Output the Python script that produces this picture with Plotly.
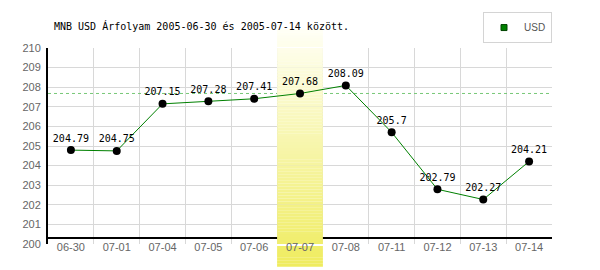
import plotly.graph_objects as go

# ---- data ----
dates = ["06-30", "07-01", "07-04", "07-05", "07-06", "07-07",
         "07-08", "07-11", "07-12", "07-13", "07-14"]
usd = [204.79, 204.75, 207.15, 207.28, 207.41, 207.68,
       208.09, 205.7, 202.79, 202.27, 204.21]
value_labels = ["204.79", "204.75", "207.15", "207.28", "207.41", "207.68",
                "208.09", "205.7", "202.79", "202.27", "204.21"]
highlight_date = "07-07"
reference_rate = 207.68
y_ticks = [200, 201, 202, 203, 204, 205, 206, 207, 208, 209, 210]
title_text = "MNB USD Árfolyam 2005-06-30 és 2005-07-14 között."
series_name = "USD"

# ---- geometry (pixels) ----
W, H = 600, 270
ML, MR, MT, MB = 48, 48, 46, 26
PH = H - MT - MB  # plot height in px
YMIN, YMAX = y_ticks[0], y_ticks[-1]
PX_PER_UNIT = PH / (YMAX - YMIN)


def py_to_data(py):
    return YMAX - (py - MT) / PX_PER_UNIT


def py_to_paper(py):
    return (H - MB - py) / PH


BAND_TOP, BAND_BOT = 27, 267
C_TOP = (255, 255, 246)
C_BOT = (239, 236, 94)


def band_color(py):
    t = (py - BAND_TOP) / (BAND_BOT - BAND_TOP)
    t = max(0.0, min(1.0, t))
    c = [round(a + (b - a) * t) for a, b in zip(C_TOP, C_BOT)]
    return "rgb(%d,%d,%d)" % tuple(c)


n = len(dates)
hi = dates.index(highlight_date)

shapes = []
# dashed reference line
shapes.append(dict(type="line", xref="x", yref="y", x0=-0.5, x1=n - 0.5,
                   y0=reference_rate, y1=reference_rate, layer="between",
                   line=dict(color="rgb(120,200,120)", width=1, dash="3px,3px")))
# x axis line (sits slightly above the plot bottom)
ax_y = py_to_data(238)
shapes.append(dict(type="line", xref="x", yref="y", x0=-0.5, x1=n - 0.5,
                   y0=ax_y, y1=ax_y, layer="between",
                   line=dict(color="black", width=2)))

# gradient band
step = 3
py = BAND_TOP
while py < BAND_BOT:
    p1 = min(py + step, BAND_BOT)
    col = band_color((py + p1) / 2)
    if p1 <= MT or py >= H - MB:
        shapes.append(dict(type="rect", xref="paper", yref="paper",
                           x0=hi / n, x1=(hi + 1) / n,
                           y0=py_to_paper(p1), y1=py_to_paper(py),
                           layer="below", line=dict(width=0), fillcolor=col))
    else:
        shapes.append(dict(type="rect", xref="x", yref="y",
                           x0=hi - 0.5, x1=hi + 0.5,
                           y0=py_to_data(p1), y1=py_to_data(py),
                           layer="between", line=dict(width=0), fillcolor=col))
    py = p1

fig = go.Figure()
fig.add_trace(go.Scatter(
    x=dates, y=usd, mode="lines+markers+text",
    text=value_labels, textposition="top center",
    textfont=dict(family="DejaVu Sans Mono", size=10, color="black"),
    line=dict(color="#008000", width=1),
    marker=dict(color="black", size=8),
    showlegend=False, cliponaxis=False,
))
fig.add_trace(go.Scatter(
    x=[None], y=[None], mode="markers", name=series_name,
    marker=dict(symbol="square", color="#008000", size=6,
                line=dict(color="#004400", width=1)),
))

fig.update_layout(
    width=W, height=H,
    margin=dict(l=ML, r=MR, t=MT, b=MB, pad=0),
    paper_bgcolor="white", plot_bgcolor="white",
    title=dict(text=title_text, x=54 / W, xanchor="left",
               y=1 - 26 / H, yanchor="middle",
               font=dict(family="DejaVu Sans Mono", size=10, color="black")),
    shapes=shapes,
    legend=dict(x=1, xanchor="right", y=1 + 5 / PH, yanchor="bottom",
                bgcolor="white", bordercolor="#d4d4d4", borderwidth=1,
                font=dict(family="Liberation Sans", size=10, color="#555555"),
                itemwidth=30, tracegroupgap=0),
    xaxis=dict(type="category", categoryorder="array", categoryarray=dates,
               range=[-0.5, n - 0.5], tickson="boundaries",
               showgrid=True, gridcolor="#d8d8d8", gridwidth=1,
               showline=False, zeroline=False, ticks="",
               tickfont=dict(family="Liberation Sans", size=11, color="#666666"),
               ticklabelstandoff=-5, fixedrange=True),
    yaxis=dict(range=[YMIN, YMAX], tickvals=y_ticks,
               showgrid=True, gridcolor="#d8d8d8", gridwidth=1,
               showline=True, linecolor="black", linewidth=2,
               zeroline=False, ticks="",
               tickfont=dict(family="Liberation Sans", size=11, color="#666666"),
               ticklabelstandoff=3, fixedrange=True),
)

fig.write_html("out.html")
